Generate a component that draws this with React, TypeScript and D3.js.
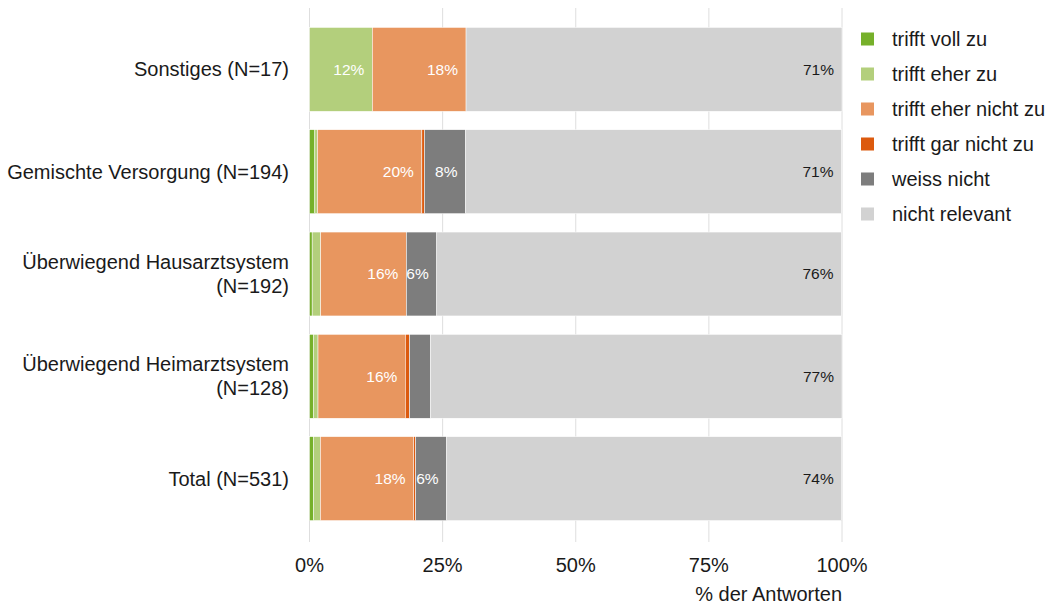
import React from "react";
import * as d3 from "d3";

const categories = [
  ["Sonstiges (N=17)"],
  ["Gemischte Versorgung (N=194)"],
  ["Überwiegend Hausarztsystem", "(N=192)"],
  ["Überwiegend Heimarztsystem", "(N=128)"],
  ["Total (N=531)"],
];
const seriesNames = [
  "trifft voll zu",
  "trifft eher zu",
  "trifft eher nicht zu",
  "trifft gar nicht zu",
  "weiss nicht",
  "nicht relevant",
];
const colors = ["#76b02a", "#b3cf7c", "#e8965f", "#dc5a0e", "#7d7d7d", "#d2d2d2"];
// percentages per category, in series order
const values = [
  [0, 11.8, 17.6, 0, 0, 70.6],
  [1.0, 0.5, 19.6, 0.5, 7.7, 70.6],
  [0.5, 1.6, 16.1, 0, 5.7, 76.0],
  [0.8, 0.8, 16.4, 0.8, 3.9, 77.3],
  [0.75, 1.3, 17.5, 0.4, 5.8, 74.2],
];
const ticks = [0, 25, 50, 75, 100];

const W = 1049;
const H = 606;
const left = 309.5;
const right = 842;
const top = 8;
const bottom = 540;
const FS = 20;
const FONT = "'Liberation Sans', Arial, sans-serif";

export default function App() {
  const x = d3.scaleLinear().domain([0, 100]).range([left, right]);
  const step = (bottom - top) / (categories.length - 1 + 1.2);
  const bandH = step * 0.82;
  const yc = (i: number) => top + step * (0.6 + i);

  return (
    <svg width={W} height={H} style={{ position: "absolute", left: 0, top: 0 }} fontFamily={FONT}>
      <rect width={W} height={H} fill="#fff" />
      {ticks.map((t) => (
        <line key={t} x1={x(t)} x2={x(t)} y1={top} y2={bottom + 2} stroke="#dedede" strokeWidth={1} />
      ))}
      {values.map((row, i) => {
        let cum = 0;
        return (
          <g key={i}>
            {row.map((v, j) => {
              const x0 = cum;
              cum += v;
              if (v <= 0) return null;
              return (
                <rect
                  key={j}
                  x={x(x0)}
                  y={yc(i) - bandH / 2}
                  width={x(x0 + v) - x(x0)}
                  height={bandH}
                  fill={colors[j]}
                  stroke="#fff"
                  strokeWidth={0.5}
                />
              );
            })}
            {(() => {
              let c = 0;
              return row.map((v, j) => {
                c += v;
                if (v < 5) return null;
                return (
                  <text
                    key={"t" + j}
                    x={x(c) - 8}
                    y={yc(i)}
                    dy="0.35em"
                    textAnchor="end"
                    fontSize={15.5}
                    fill={j === 5 ? "#1a1a1a" : "#ffffff"}
                  >
                    {Math.round(v)}%
                  </text>
                );
              });
            })()}
            <text x={289} y={yc(i)} textAnchor="end" fontSize={FS} fill="#1a1a1a">
              {categories[i].map((ln, k) => (
                <tspan key={k} x={289} dy={k === 0 ? `${0.35 - (categories[i].length - 1) * 0.6}em` : "1.2em"}>
                  {ln}
                </tspan>
              ))}
            </text>
          </g>
        );
      })}
      {ticks.map((t) => (
        <text key={"l" + t} x={x(t)} y={565} dy="0.35em" textAnchor="middle" fontSize={FS} fill="#1a1a1a">
          {t}%
        </text>
      ))}
      <text x={right} y={594} dy="0.35em" textAnchor="end" fontSize={FS} fill="#1a1a1a">
        % der Antworten
      </text>
      {seriesNames.map((s, j) => {
        const ly = 39 + j * 35;
        return (
          <g key={s}>
            <rect x={861} y={ly - 6.5} width={13} height={13} fill={colors[j]} />
            <text x={892} y={ly} dy="0.35em" fontSize={FS} fill="#1a1a1a">
              {s}
            </text>
          </g>
        );
      })}
    </svg>
  );
}
